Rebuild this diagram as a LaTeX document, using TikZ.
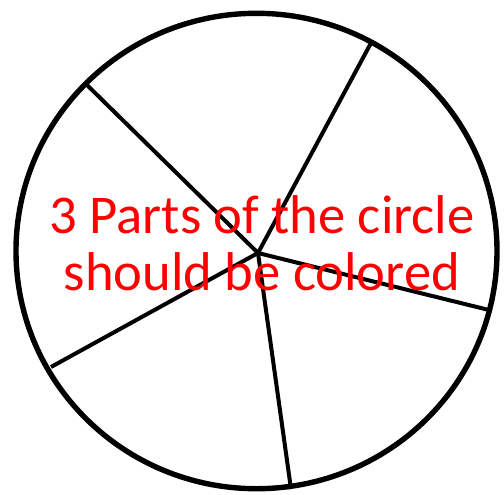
\documentclass[tikz,border=0pt]{standalone}
\usepackage{fontspec}
\setmainfont{Carlito}
\usepackage{xcolor}
\usetikzlibrary{positioning,shapes.geometric}
\definecolor{notecolor}{HTML}{FF0000}

\begin{document}
\begin{tikzpicture}[
  x=0.5pt, y=-0.5pt,
  wheel/.style={ellipse, draw=black, line width=2.7pt, minimum width=240.5pt, minimum height=237.7pt, inner sep=0pt},
  spoke/.style={line width=2pt, black},
  note/.style={font=\fontsize{27.3}{28.5}\selectfont, text=notecolor, align=center}
]
\useasboundingbox (0,0) rectangle (504,494);
\node[wheel] (rim) at (256.5,251) {};
\coordinate (hub) at (258,253);
\coordinate (endA) at (87,85);
\coordinate (endB) at (371,43);
\coordinate (endC) at (489,310);
\coordinate (endD) at (291,489);
\coordinate (endE) at (51,367);
\foreach \e in {endA,endB,endC,endD,endE}
  \draw[spoke] (hub) -- (\e);
\node[note] (label) at (262,243) {3 Parts of the circle\\should be colored};
\end{tikzpicture}
\end{document}
